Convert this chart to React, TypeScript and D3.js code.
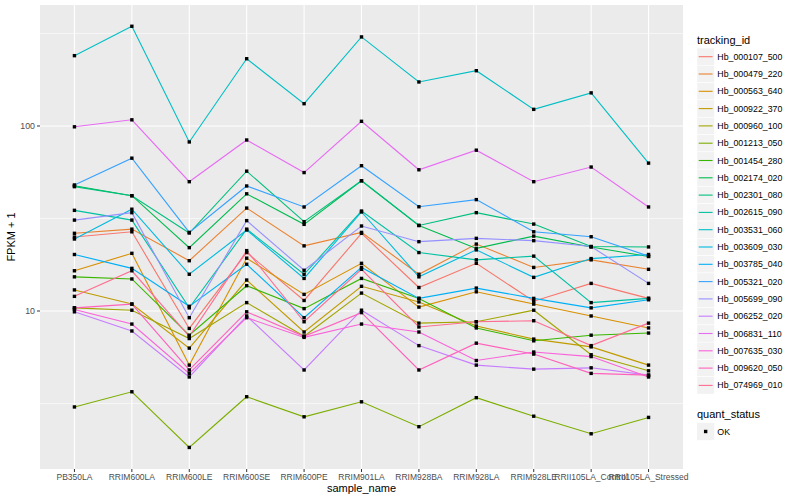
import * as d3 from 'd3'

const samples = [
  'PB350LA', 'RRIM600LA', 'RRIM600LE', 'RRIM600SE', 'RRIM600PE', 'RRIM901LA',
  'RRIM928BA', 'RRIM928LA', 'RRIM928LE', 'RRII105LA_Control', 'RRII105LA_Stressed',
]

const trackingIds = [
  'Hb_000107_500', 'Hb_000479_220', 'Hb_000563_640', 'Hb_000922_370', 'Hb_000960_100',
  'Hb_001213_050', 'Hb_001454_280', 'Hb_002174_020', 'Hb_002301_080', 'Hb_002615_090',
  'Hb_003531_060', 'Hb_003609_030', 'Hb_003785_040', 'Hb_005321_020', 'Hb_005699_090',
  'Hb_006252_020', 'Hb_006831_110', 'Hb_007635_030', 'Hb_009620_050', 'Hb_074969_010',
]

// FPKM + 1, one row per tracking id, one value per sample
const fpkm: number[][] = [
  [25.1, 26.8, 8.05, 20.7, 11.4, 26.3, 13.4, 18.1, 11.3, 14.1, 11.7],
  [26.3, 27.7, 18.7, 36, 22.5, 26.6, 15.8, 23, 17.2, 18.9, 16.8],
  [16.5, 20.5, 5.1, 19.3, 12.3, 18.1, 10.5, 12.7, 10.9, 9.4, 8.1],
  [13, 10.9, 6.3, 14.7, 7.7, 13.6, 11.2, 8.3, 7.05, 6.4, 5.1],
  [10.4, 10.1, 7.1, 11.1, 7.3, 12.5, 8.6, 8.75, 10.1, 5.8, 4.75],
  [3.03, 3.66, 1.83, 3.44, 2.68, 3.23, 2.37, 3.4, 2.7, 2.17, 2.66],
  [15.3, 14.9, 7.4, 13.7, 10.3, 15, 11.7, 8.1, 6.9, 7.4, 7.6],
  [47.5, 42, 22, 43, 29.4, 50.6, 29, 21.8, 25.4, 22.2, 19.7],
  [47, 42, 26.4, 57, 30.4, 50.6, 29, 34, 29.5, 22.3, 22.2],
  [35, 31, 10.4, 27.7, 15.8, 34.7, 20.7, 18.9, 19.8, 11.1, 11.7],
  [240, 346, 82, 231, 132, 303, 173, 199, 123, 151, 63],
  [24.5, 35.5, 15.8, 27.4, 15, 34.3, 15.3, 21.4, 15.2, 19.2, 20.2],
  [20.2, 17, 10.6, 17.9, 9.2, 17.2, 11.7, 13.3, 11.7, 10.4, 11.5],
  [48, 67, 26.6, 47.4, 36.5, 61, 36.6, 40, 26.8, 25.2, 19.8],
  [31, 34, 9.2, 30.8, 16.6, 28.8, 23.7, 24.7, 24.0, 22.3, 14.1],
  [9.9, 7.8, 4.4, 9.4, 4.8, 10.1, 6.5, 5.1, 4.85, 4.93, 4.5],
  [99, 108, 50, 84, 56, 106, 58, 74, 50, 60, 36.5],
  [10.2, 8.5, 4.6, 9.2, 7.2, 8.5, 7.7, 5.4, 6.0, 5.67, 4.4],
  [10.4, 10.9, 4.8, 9.9, 7.3, 9.8, 4.8, 6.7, 5.85, 4.6, 4.5],
  [12, 16.5, 7.3, 21.2, 8.75, 16.8, 8.2, 8.75, 8.86, 6.5, 8.6],
]

const yMajor = [10, 100]
const yMinor = [Math.sqrt(10), Math.sqrt(1000), Math.sqrt(100000)]
const quantStatus = ['OK']

// ggplot2 default hue palette for 20 levels
const PALETTE = [
  '#F8766D', '#EA8331', '#D89000', '#C09B00', '#A3A500', '#7CAE00', '#39B600', '#00BB4E',
  '#00BF7D', '#00C1A3', '#00BFC4', '#00BAE0', '#00B0F6', '#35A2FF', '#9590FF', '#C77CFF',
  '#E76BF3', '#FA62DB', '#FF62BC', '#FF6C91',
]

const FONT = '"Liberation Sans", Arial, sans-serif'

export default function App() {
  const left = 40
  const right = 683
  const top = 5
  const bottom = 469

  const x = d3.scalePoint<string>().domain(samples).range([left, right]).padding(0.6)
  const y = d3.scaleLog().domain([Math.pow(10, 0.146), Math.pow(10, 2.654)]).range([bottom, top])

  const line = d3
    .line<number>()
    .x((_, i) => x(samples[i])!)
    .y((d) => y(d))

  const legendX = 697
  const legendY0 = 48
  const step = 17.3

  return (
    <svg
      width={800}
      height={500}
      style={{ position: 'absolute', left: 0, top: 0, background: '#fff' }}
      fontFamily={FONT}
    >
      <rect x={left} y={top} width={right - left} height={bottom - top} fill="#EBEBEB" />
      {yMinor.map((v) => (
        <line key={'mi' + v} x1={left} x2={right} y1={y(v)} y2={y(v)} stroke="#fff" strokeWidth={0.55} />
      ))}
      {yMajor.map((v) => (
        <line key={'ma' + v} x1={left} x2={right} y1={y(v)} y2={y(v)} stroke="#fff" strokeWidth={1.1} />
      ))}
      {samples.map((s) => (
        <line key={'vx' + s} x1={x(s)} x2={x(s)} y1={top} y2={bottom} stroke="#fff" strokeWidth={1.1} />
      ))}

      {fpkm.map((row, k) => (
        <path key={trackingIds[k]} d={line(row)!} fill="none" stroke={PALETTE[k]} strokeWidth={1.1} />
      ))}
      {fpkm.map((row, k) =>
        row.map((v, i) => (
          <rect key={k + '-' + i} x={x(samples[i])! - 1.7} y={y(v) - 1.7} width={3.4} height={3.4} fill="#000" />
        ))
      )}

      {/* y axis */}
      {yMajor.map((v) => (
        <g key={'yt' + v}>
          <line x1={left - 3} x2={left} y1={y(v)} y2={y(v)} stroke="#333" strokeWidth={1} />
          <text x={left - 5} y={y(v)} dy="0.35em" textAnchor="end" fontSize={8.8} fill="#4D4D4D">
            {v}
          </text>
        </g>
      ))}
      <text
        transform={`translate(15,${(top + bottom) / 2}) rotate(-90)`}
        textAnchor="middle"
        fontSize={11}
        fill="#000"
      >
        FPKM + 1
      </text>

      {/* x axis */}
      {samples.map((s) => (
        <g key={'xt' + s}>
          <line x1={x(s)} x2={x(s)} y1={bottom} y2={bottom + 3} stroke="#333" strokeWidth={1} />
          <text x={x(s)} y={bottom + 11} textAnchor="middle" fontSize={8.5} fill="#4D4D4D">
            {s}
          </text>
        </g>
      ))}
      <text x={(left + right) / 2} y={492} textAnchor="middle" fontSize={11} fill="#000">
        sample_name
      </text>

      {/* tracking_id legend */}
      <text x={legendX} y={legendY0 - 4} fontSize={11} fill="#000">
        tracking_id
      </text>
      {trackingIds.map((id, k) => {
        const cy = legendY0 + 8.7 + k * step
        return (
          <g key={'lg' + id}>
            <rect x={legendX} y={cy - step / 2} width={step} height={step} fill="#F2F2F2" stroke="#fff" strokeWidth={0.5} />
            <line x1={legendX + 1.7} x2={legendX + step - 1.7} y1={cy} y2={cy} stroke={PALETTE[k]} strokeWidth={1.1} />
            <text x={legendX + step + 3} y={cy} dy="0.35em" fontSize={8.8} fill="#000">
              {id}
            </text>
          </g>
        )
      })}

      {/* quant_status legend */}
      <text x={legendX} y={418} fontSize={11} fill="#000">
        quant_status
      </text>
      {quantStatus.map((q, k) => {
        const cy = 431.5 + k * step
        return (
          <g key={'qs' + q}>
            <rect x={legendX} y={cy - step / 2} width={step} height={step} fill="#F2F2F2" />
            <rect x={legendX + step / 2 - 1.7} y={cy - 1.7} width={3.4} height={3.4} fill="#000" />
            <text x={legendX + step + 3} y={cy} dy="0.35em" fontSize={8.8} fill="#000">
              {q}
            </text>
          </g>
        )
      })}
    </svg>
  )
}
